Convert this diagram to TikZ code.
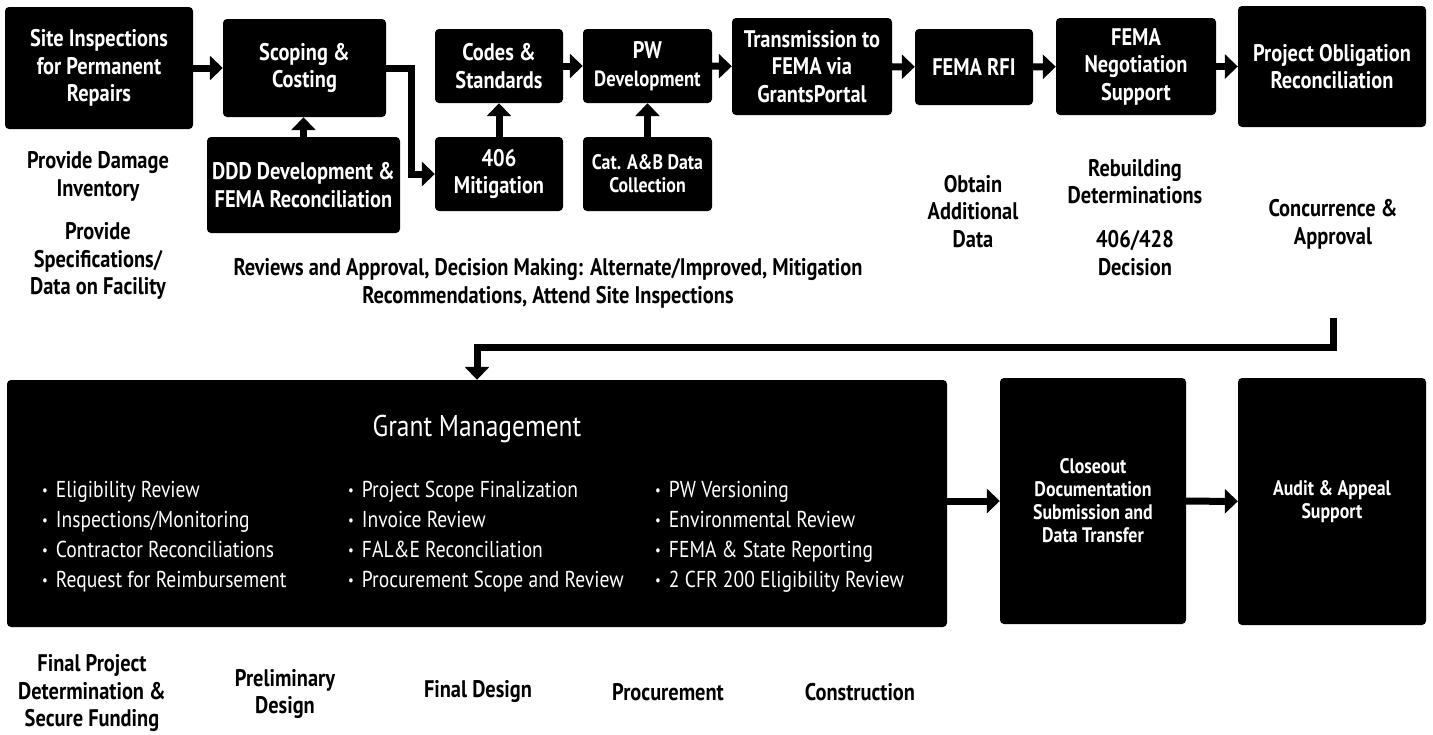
\documentclass[tikz,border=0pt]{standalone}
\usepackage{fontspec}
\setmainfont{PT Sans}[FakeStretch=0.85]
\usetikzlibrary{arrows.meta,positioning}

\def\itm{{\fontsize{15}{15}\selectfont\raisebox{2pt}{\textbullet}}\hspace{8pt}}
\colorlet{box fill}{black}
\colorlet{box text}{white}
\tikzset{stage/.style={fill=box fill, text=box text, rounded corners=4pt, align=center, inner sep=0pt,
        font=\bfseries\fontsize{24}{27.5}\selectfont},
    box size/.style 2 args={minimum width=#1pt, minimum height=#2pt},
    small text/.style={font=\bfseries\fontsize{21}{23}\selectfont},
    note/.style={align=center, font=\bfseries\fontsize{24}{27.5}\selectfont},
    list/.style={text=box text, align=left, anchor=west, inner sep=0pt, font=\fontsize{23}{30}\selectfont},
    flow/.style={line width=7pt, -{Triangle[width=24pt,length=13pt]}}}

\begin{document}
\begin{tikzpicture}[x=1pt, y=-1pt]
	\useasboundingbox (0,0) rectangle (1433,734);

	\node[stage, box size={188}{122}] (site) at (99,68) {Site Inspections\\for Permanent\\Repairs};
	\node[stage, box size={163}{98}] (scope) at (304.5,68) {Scoping \&\\Costing};
	\node[stage, box size={193}{96}] (ddd) at (303.5,185) {DDD Development \&\\FEMA Reconciliation};
	\node[stage, box size={128}{74}] (codes) at (499,66) {Codes \&\\Standards};
	\node[stage, box size={128}{74}] (mitig) at (499,174) {406\\Mitigation};
	\node[stage, box size={129}{74}] (pw) at (647.5,66) {PW\\{\fontsize{22}{27.5}\selectfont Development}};
	\node[stage, small text, box size={129}{74}] (cat) at (647.5,174) {Cat. A\&B Data\\Collection};
	\node[stage, box size={160}{97}] (trans) at (812,66.5) {Transmission to\\FEMA via\\GrantsPortal};
	\node[stage, box size={118}{76}] (rfi) at (974,67) {FEMA RFI};
	\node[stage, box size={160}{97}] (nego) at (1136,66.5) {FEMA\\Negotiation\\Support};
	\node[stage, box size={188}{121}] (proj) at (1332,66.5) {Project Obligation\\Reconciliation};

	\node[note] (damage) at (98,176.5) {Provide Damage\\Inventory};
	\node[note] (specs) at (98,261) {Provide\\Specifications/\\Data on Facility};
	\node[note] (reviews) at (548,283.5) {Reviews and Approval, Decision Making: Alternate/Improved, Mitigation\\Recommendations, Attend Site Inspections};
	\node[note] (obtain) at (973,211.5) {Obtain\\Additional\\Data};
	\node[note] (rebuild) at (1135,181.5) {Rebuilding\\Determinations};
	\node[note] (decision) at (1135,253) {406/428\\Decision};
	\node[note] (concur) at (1333,224.5) {Concurrence \&\\Approval};

	\node[stage, box size={940}{247}] (grant) at (477,503.5) {};
	\node[text=box text, font=\fontsize{30}{30}\selectfont] (grant title) at (477,429) {Grant Management};
	\node[list] (col a) at (42,537) {\itm Eligibility Review\\\itm Inspections/Monitoring\\\itm Contractor Reconciliations\\\itm Request for Reimbursement};
	\node[list] (col b) at (348,537) {\itm Project Scope Finalization\\\itm Invoice Review\\\itm FAL\&E Reconciliation\\\itm Procurement Scope and Review};
	\node[list] (col c) at (655,537) {\itm PW Versioning\\\itm Environmental Review\\\itm FEMA \& State Reporting\\\itm 2 CFR 200 Eligibility Review};
	\node[stage, small text, box size={186}{246}] (close) at (1093,501) {Closeout\\Documentation\\Submission and\\Data Transfer};
	\node[stage, small text, box size={188}{247}] (audit) at (1332,501.5) {Audit \& Appeal\\Support};

	\node[note] (funding) at (92,693.5) {Final Project\\Determination \&\\Secure Funding};
	\node[note] (prelim) at (285,694) {Preliminary\\Design};
	\node[note] (final) at (478,692) {Final Design};
	\node[note] (procure) at (668,692) {Procurement};
	\node[note] (build) at (860,692) {Construction};

	\draw[flow] (site.east) -- (scope.west |- site.east);
	\draw[flow] (scope.east) -- ++(25,0) |- (mitig.west);
	\draw[flow] (ddd.north) -- (ddd.north |- scope.south);
	\draw[flow] (mitig) -- (codes);
	\draw[flow] (cat) -- (pw);
	\draw[flow] (codes) -- (pw);
	\draw[flow] (pw) -- (trans);
	\draw[flow] (trans) -- (rfi);
	\draw[flow] (rfi) -- (nego);
	\draw[flow] (nego) -- (proj);
	\coordinate (turn) at (1333,318);
	\draw[flow] (turn) -- ++(0,29) -| (grant.north);
	\draw[flow] (grant.east |- close) -- (close);
	\draw[flow] (close) -- (audit);

\end{tikzpicture}
\end{document}
